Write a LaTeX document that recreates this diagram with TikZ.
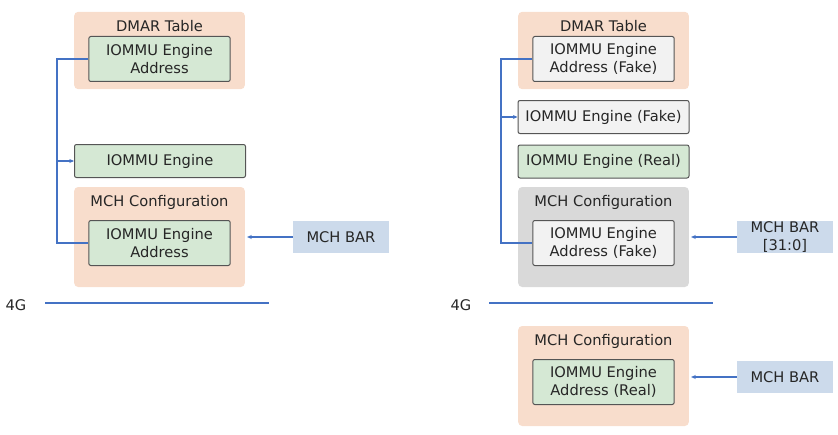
\documentclass[tikz,border=0pt]{standalone}
\usepackage{fontspec}
\setmainfont{DejaVu Sans}
\usetikzlibrary{arrows.meta}

\definecolor{peach}{HTML}{F8DDCC}
\definecolor{leaf}{HTML}{D5E8D4}
\definecolor{steel}{HTML}{CCDAEB}
\definecolor{ash}{HTML}{D9D9D9}
\definecolor{paper}{HTML}{F2F2F2}
\definecolor{busblue}{HTML}{4472C4}
\definecolor{ink}{HTML}{262626}
\definecolor{rim}{HTML}{555555}

\begin{document}
\begin{tikzpicture}[x=0.75pt,y=-0.75pt,
  every node/.style={font=\fontsize{11}{13.5}\selectfont,text=ink,align=center,inner sep=0pt},
  region/.style={fill=#1,rounded corners=3pt,minimum width=128pt},
  region/.default=peach,
  slot/.style={fill=#1,draw=rim,line width=0.75pt,rounded corners=1.5pt,minimum width=106pt,minimum height=33.75pt},
  slot/.default=leaf,
  engine/.style={fill=#1,draw=rim,line width=0.75pt,rounded corners=1.5pt,minimum width=128.25pt,minimum height=24.75pt},
  engine/.default=leaf,
  barbox/.style={fill=steel,minimum width=72pt,minimum height=24.5pt},
  busline/.style={draw=busblue,line width=0.8pt},
  link/.style={busline,-{Stealth[length=3.5pt,width=3pt]}}]

\useasboundingbox (0,0) rectangle (838,435);

\node[region,minimum height=58pt] (dmarL) at (159.5,50.5) {};
\node (dmarLt) at (159.5,26) {DMAR Table};
\node[slot] (dmarLaddr) at (159.5,59) {IOMMU Engine\\Address};
\node[engine] (engL) at (160,161) {IOMMU Engine};
\node[region,minimum height=75pt] (mchL) at (159.5,237) {};
\node (mchLt) at (159.5,202) {MCH Configuration};
\node[slot] (mchLaddr) at (159.5,243) {IOMMU Engine\\Address};
\node[barbox] (barL) at (341,237) {MCH BAR};
\node (gL) at (16,305) {4G};
\coordinate (busL) at (57,0);
\coordinate (lineLa) at (45,303);
\coordinate (lineLb) at (269,303);

\draw[busline] (dmarLaddr.west) -- (dmarLaddr.west -| busL) -- (mchLaddr.west -| busL) -- (mchLaddr.west);
\draw[link] (engL.west -| busL) -- (engL.west);
\draw[link,shorten >=1.5pt] (barL.west) -- (mchL.east |- barL.west);
\draw[busline] (lineLa) -- (lineLb);

\node[region,minimum height=58pt] (dmarR) at (603.5,50.5) {};
\node (dmarRt) at (603.5,26) {DMAR Table};
\node[slot=paper] (dmarRaddr) at (603.5,59) {IOMMU Engine\\Address (Fake)};
\node[engine=paper] (fakeR) at (603.5,117) {IOMMU Engine (Fake)};
\node[engine] (realR) at (603.5,161.5) {IOMMU Engine (Real)};
\node[region=ash,minimum height=75pt] (mchR) at (603.5,237) {};
\node (mchRt) at (603.5,202) {MCH Configuration};
\node[slot=paper] (mchRaddr) at (603.5,243) {IOMMU Engine\\Address (Fake)};
\node[barbox] (barR) at (785,237) {MCH BAR\\{[31:0]}};
\node (gR) at (461,305) {4G};
\coordinate (busR) at (501,0);
\coordinate (lineRa) at (489,303);
\coordinate (lineRb) at (713,303);

\draw[busline] (dmarRaddr.west) -- (dmarRaddr.west -| busR) -- (mchRaddr.west -| busR) -- (mchRaddr.west);
\draw[link] (fakeR.west -| busR) -- (fakeR.west);
\draw[link,shorten >=1.5pt] (barR.west) -- (mchR.east |- barR.west);
\draw[busline] (lineRa) -- (lineRb);

\node[region,minimum height=75pt] (mchR2) at (603.5,376) {};
\node (mchR2t) at (603.5,341) {MCH Configuration};
\node[slot] (mchR2addr) at (603.5,382) {IOMMU Engine\\Address (Real)};
\node[barbox] (barR2) at (785,377) {MCH BAR};

\draw[link,shorten >=1.5pt] (barR2.west) -- (mchR2.east |- barR2.west);
\end{tikzpicture}
\end{document}
